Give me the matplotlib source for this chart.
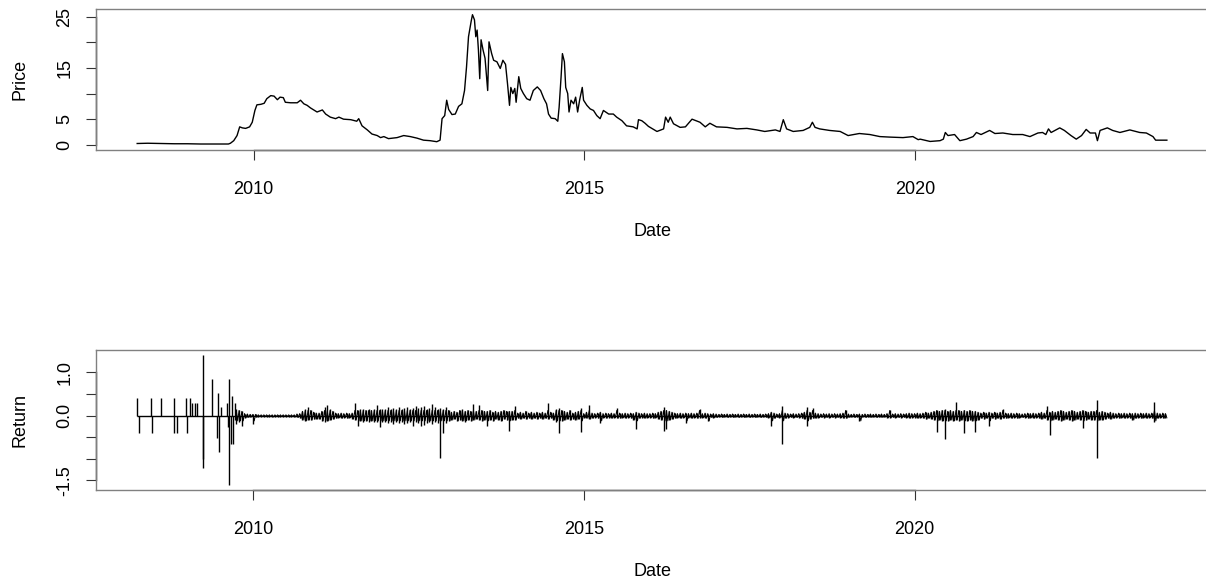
import numpy as np
import matplotlib.pyplot as plt
import matplotlib.transforms as mtransforms

plt.rcParams['font.family'] = ['Liberation Sans', 'DejaVu Sans']

# Price (decimal year, price)
price_dates = [
    2008.24, 2008.40, 2008.60, 2008.80, 2009.00, 2009.20, 2009.40, 2009.62, 2009.65, 2009.70,
    2009.75, 2009.79, 2009.83, 2009.88, 2009.94, 2009.98, 2010.02, 2010.05, 2010.11, 2010.16,
    2010.20, 2010.26, 2010.31, 2010.36, 2010.40, 2010.45, 2010.48, 2010.56, 2010.66, 2010.71,
    2010.76, 2010.81, 2010.86, 2010.91, 2010.96, 2011.04, 2011.09, 2011.16, 2011.24, 2011.29,
    2011.36, 2011.47, 2011.56, 2011.59, 2011.64, 2011.72, 2011.79, 2011.87, 2011.92, 2011.97,
    2012.04, 2012.10, 2012.17, 2012.27, 2012.37, 2012.47, 2012.57, 2012.67, 2012.77, 2012.82,
    2012.85, 2012.89, 2012.92, 2012.95, 2013.00, 2013.05, 2013.10, 2013.15, 2013.19, 2013.22,
    2013.25, 2013.29, 2013.31, 2013.34, 2013.36, 2013.38, 2013.40, 2013.42, 2013.44, 2013.47,
    2013.50, 2013.54, 2013.56, 2013.60, 2013.63, 2013.68, 2013.73, 2013.77, 2013.81, 2013.84,
    2013.87, 2013.89, 2013.92, 2013.95, 2013.97, 2014.01, 2014.04, 2014.08, 2014.13, 2014.18,
    2014.23, 2014.29, 2014.34, 2014.39, 2014.43, 2014.46, 2014.50, 2014.56, 2014.60, 2014.62,
    2014.65, 2014.67, 2014.70, 2014.72, 2014.75, 2014.77, 2014.80, 2014.84, 2014.87, 2014.90,
    2014.93, 2014.97, 2014.99, 2015.04, 2015.09, 2015.14, 2015.19, 2015.24, 2015.29, 2015.37,
    2015.44, 2015.49, 2015.57, 2015.64, 2015.74, 2015.80, 2015.82, 2015.87, 2015.92, 2015.97,
    2016.10, 2016.20, 2016.23, 2016.27, 2016.30, 2016.35, 2016.45, 2016.53, 2016.63, 2016.75,
    2016.83, 2016.90, 2017.00, 2017.16, 2017.31, 2017.46, 2017.61, 2017.73, 2017.89, 2017.96,
    2018.01, 2018.06, 2018.16, 2018.31, 2018.41, 2018.45, 2018.49, 2018.56, 2018.71, 2018.87,
    2018.99, 2019.16, 2019.32, 2019.47, 2019.62, 2019.82, 2019.97, 2020.05, 2020.08, 2020.23,
    2020.38, 2020.43, 2020.46, 2020.50, 2020.60, 2020.68, 2020.78, 2020.88, 2020.93, 2021.00,
    2021.13, 2021.21, 2021.33, 2021.48, 2021.63, 2021.74, 2021.86, 2021.93, 2021.98, 2022.02,
    2022.06, 2022.19, 2022.26, 2022.36, 2022.44, 2022.52, 2022.59, 2022.65, 2022.73, 2022.76,
    2022.80, 2022.91, 2022.99, 2023.10, 2023.25, 2023.40, 2023.50, 2023.60, 2023.64, 2023.70,
    2023.81]
price = [
    0.25, 0.30, 0.25, 0.20, 0.20, 0.15, 0.15, 0.15, 0.30, 0.80,
    1.8, 3.5, 3.3, 3.2, 3.5, 4.4, 6.7, 7.8, 7.9, 8.1,
    9.0, 9.6, 9.5, 8.8, 9.3, 9.2, 8.3, 8.2, 8.2, 8.7,
    8.0, 7.7, 7.2, 6.8, 6.4, 6.8, 6.0, 5.4, 5.1, 5.4,
    5.0, 4.9, 4.6, 5.1, 3.7, 2.9, 2.1, 1.8, 1.4, 1.6,
    1.2, 1.3, 1.4, 1.8, 1.6, 1.3, 0.9, 0.8, 0.6, 0.9,
    5.1, 5.7, 8.7, 6.9, 5.9, 6.0, 7.5, 8.0, 10.6, 15.2,
    21.1, 24.1, 25.4, 24.4, 21.1, 22.4, 18.5, 12.9, 20.5, 18.5,
    16.9, 10.6, 20.1, 17.8, 16.5, 16.2, 14.9, 16.5, 15.7, 11.9,
    7.7, 11.2, 10.0, 11.0, 8.3, 13.3, 11.0, 10.0, 9.0, 8.7,
    10.6, 11.3, 10.6, 9.0, 8.0, 6.0, 5.2, 5.1, 4.6, 7.3,
    13.3, 17.8, 16.2, 11.2, 10.0, 6.4, 8.7, 8.0, 9.3, 6.4,
    8.7, 11.2, 8.7, 7.7, 7.0, 6.7, 5.7, 5.1, 6.7, 6.0,
    6.0, 5.4, 4.7, 3.7, 3.5, 3.1, 4.9, 4.7, 4.2, 3.6,
    2.6, 3.1, 5.4, 4.4, 5.4, 4.1, 3.4, 3.5, 5.0, 4.4,
    3.5, 4.2, 3.5, 3.4, 3.1, 3.2, 2.9, 2.6, 2.9, 2.6,
    4.9, 3.1, 2.6, 2.8, 3.4, 4.4, 3.4, 3.1, 2.8, 2.6,
    1.8, 2.2, 2.0, 1.6, 1.5, 1.4, 1.6, 1.0, 1.1, 0.65,
    0.8, 1.1, 2.4, 1.8, 2.0, 0.8, 1.1, 1.6, 2.4, 2.0,
    2.8, 2.2, 2.3, 2.0, 2.0, 1.6, 2.3, 2.4, 2.0, 3.1,
    2.4, 3.3, 2.8, 1.8, 1.1, 1.8, 3.0, 2.3, 2.3, 0.8,
    2.8, 3.3, 2.8, 2.4, 2.9, 2.4, 2.3, 1.6, 0.9, 0.9,
    0.9]

# Early isolated return spikes (2008 - mid 2009): date, low, high
spike_dates = [2008.252, 2008.282, 2008.455, 2008.479, 2008.615, 2008.801, 2008.811, 2008.852,
               2008.988, 2009.008, 2009.048, 2009.083, 2009.119, 2009.154, 2009.240, 2009.249,
               2009.376, 2009.451, 2009.471, 2009.486, 2009.512, 2009.602, 2009.617, 2009.642,
               2009.663, 2009.683, 2009.693, 2009.728]
spike_lo = [0, -0.40, 0, -0.40, 0, -0.40, 0, -0.40,
            0, -0.40, 0, 0, 0, 0, -1.00, -1.22,
            0, -0.51, 0, -0.84, 0, 0, -0.26, -1.60,
            -0.66, 0, -0.66, -0.10]
spike_hi = [0.42, 0, 0.42, 0, 0.42, 0, 0.42, 0,
            0.42, 0, 0.42, 0.30, 0.30, 0.30, 1.40, 0,
            0.85, 0, 0.52, 0, 0.20, 0.30, 0, 0.85,
            0, 0.45, 0, 0.30]

# Half-monthly return range from Oct 2009 on (high / low per bin)
ret_start = 2009.75
ret_hi = [
    0.15, 0.12, 0.10, 0.05, 0.04, 0.03,
    0.03, 0.03, 0.02, 0.02, 0.02, 0.02, 0.02, 0.02, 0.02, 0.02, 0.02, 0.02, 0.02, 0.02, 0.02, 0.02, 0.04, 0.05, 0.10, 0.15, 0.20, 0.12, 0.08, 0.06,
    0.06, 0.10, 0.20, 0.25, 0.15, 0.10, 0.06, 0.05, 0.06, 0.05, 0.06, 0.05, 0.06, 0.30, 0.12, 0.15, 0.15, 0.12, 0.15, 0.12, 0.15, 0.25, 0.15, 0.15,
    0.15, 0.20, 0.15, 0.18, 0.15, 0.20, 0.15, 0.18, 0.20, 0.15, 0.18, 0.22, 0.18, 0.20, 0.22, 0.15, 0.18, 0.27, 0.20, 0.15, 0.18, 0.15, 0.20, 0.12,
    0.08, 0.10, 0.08, 0.12, 0.15, 0.10, 0.12, 0.10, 0.27, 0.10, 0.25, 0.12, 0.10, 0.10, 0.12, 0.08, 0.10, 0.08, 0.10, 0.12, 0.10, 0.10, 0.10, 0.22,
    0.06, 0.08, 0.06, 0.10, 0.06, 0.08, 0.06, 0.08, 0.06, 0.08, 0.06, 0.30, 0.08, 0.06, 0.15, 0.17, 0.12, 0.10, 0.08, 0.12, 0.06, 0.08, 0.10, 0.17,
    0.05, 0.08, 0.25, 0.06, 0.05, 0.06, 0.08, 0.05, 0.06, 0.05, 0.06, 0.05, 0.18, 0.06, 0.05, 0.06, 0.05, 0.06, 0.05, 0.08, 0.06, 0.05, 0.06, 0.05,
    0.05, 0.06, 0.05, 0.08, 0.10, 0.19, 0.12, 0.10, 0.08, 0.06, 0.05, 0.06, 0.05, 0.06, 0.05, 0.06, 0.05, 0.06, 0.15, 0.05, 0.06, 0.05, 0.04, 0.05,
    0.04, 0.03, 0.04, 0.03, 0.04, 0.03, 0.04, 0.03, 0.04, 0.03, 0.04, 0.03, 0.04, 0.03, 0.04, 0.03, 0.04, 0.03, 0.04, 0.05, 0.08, 0.06, 0.04, 0.05,
    0.22, 0.06, 0.05, 0.04, 0.05, 0.04, 0.05, 0.06, 0.08, 0.20, 0.08, 0.17, 0.06, 0.05, 0.04, 0.05, 0.04, 0.05, 0.04, 0.05, 0.04, 0.05, 0.06, 0.14,
    0.04, 0.03, 0.04, 0.03, 0.04, 0.03, 0.04, 0.03, 0.04, 0.03, 0.04, 0.03, 0.04, 0.03, 0.05, 0.12, 0.04, 0.05, 0.04, 0.05, 0.04, 0.05, 0.06, 0.05,
    0.05, 0.06, 0.05, 0.06, 0.08, 0.06, 0.08, 0.10, 0.12, 0.10, 0.12, 0.15, 0.10, 0.12, 0.10, 0.31, 0.12, 0.10, 0.12, 0.10, 0.12, 0.10, 0.10, 0.08,
    0.06, 0.08, 0.06, 0.08, 0.06, 0.08, 0.06, 0.08, 0.15, 0.06, 0.05, 0.06, 0.05, 0.06, 0.05, 0.04, 0.05, 0.06, 0.05, 0.06, 0.05, 0.06, 0.08, 0.06,
    0.22, 0.08, 0.10, 0.08, 0.10, 0.12, 0.10, 0.08, 0.10, 0.12, 0.10, 0.08, 0.10, 0.12, 0.10, 0.08, 0.10, 0.10, 0.37, 0.08, 0.10, 0.08, 0.06, 0.08,
    0.06, 0.05, 0.06, 0.05, 0.06, 0.05, 0.06, 0.05, 0.06, 0.05, 0.06, 0.05, 0.06, 0.05, 0.06, 0.31, 0.06, 0.05, 0.06, 0.05]
ret_lo = [
    -0.20, -0.15, -0.25, -0.05, -0.04, -0.03,
    -0.20, -0.03, -0.02, -0.02, -0.02, -0.02, -0.02, -0.03, -0.02, -0.02, -0.02, -0.02, -0.02, -0.02, -0.02, -0.03, -0.04, -0.06, -0.10, -0.12, -0.10, -0.10, -0.08, -0.08,
    -0.08, -0.12, -0.15, -0.12, -0.10, -0.08, -0.06, -0.05, -0.06, -0.05, -0.06, -0.05, -0.08, -0.10, -0.24, -0.12, -0.15, -0.12, -0.15, -0.12, -0.15, -0.15, -0.26, -0.15,
    -0.15, -0.18, -0.15, -0.20, -0.15, -0.18, -0.15, -0.20, -0.18, -0.15, -0.25, -0.15, -0.18, -0.25, -0.22, -0.18, -0.15, -0.20, -0.15, -0.18, -0.99, -0.40, -0.18, -0.12,
    -0.10, -0.08, -0.12, -0.10, -0.12, -0.15, -0.10, -0.12, -0.10, -0.08, -0.10, -0.12, -0.10, -0.25, -0.10, -0.12, -0.08, -0.10, -0.12, -0.08, -0.10, -0.36, -0.10, -0.10,
    -0.06, -0.08, -0.06, -0.08, -0.06, -0.08, -0.06, -0.08, -0.06, -0.08, -0.06, -0.08, -0.06, -0.10, -0.15, -0.40, -0.12, -0.10, -0.08, -0.10, -0.08, -0.10, -0.08, -0.37,
    -0.05, -0.06, -0.08, -0.06, -0.05, -0.06, -0.16, -0.05, -0.06, -0.05, -0.06, -0.05, -0.06, -0.06, -0.05, -0.06, -0.05, -0.06, -0.10, -0.31, -0.06, -0.05, -0.06, -0.05,
    -0.05, -0.06, -0.05, -0.08, -0.10, -0.35, -0.30, -0.10, -0.08, -0.06, -0.05, -0.06, -0.05, -0.18, -0.05, -0.06, -0.05, -0.06, -0.05, -0.05, -0.06, -0.12, -0.04, -0.05,
    -0.04, -0.03, -0.04, -0.03, -0.04, -0.03, -0.04, -0.03, -0.04, -0.03, -0.04, -0.03, -0.04, -0.03, -0.04, -0.03, -0.04, -0.03, -0.04, -0.05, -0.25, -0.06, -0.04, -0.05,
    -0.65, -0.06, -0.05, -0.04, -0.05, -0.04, -0.05, -0.06, -0.08, -0.25, -0.08, -0.06, -0.06, -0.05, -0.04, -0.05, -0.04, -0.05, -0.04, -0.05, -0.04, -0.05, -0.06, -0.06,
    -0.04, -0.03, -0.04, -0.03, -0.12, -0.03, -0.04, -0.03, -0.04, -0.03, -0.04, -0.03, -0.04, -0.03, -0.05, -0.05, -0.04, -0.05, -0.04, -0.05, -0.04, -0.05, -0.06, -0.05,
    -0.05, -0.06, -0.05, -0.06, -0.08, -0.06, -0.08, -0.10, -0.37, -0.10, -0.12, -0.53, -0.12, -0.10, -0.12, -0.10, -0.12, -0.10, -0.40, -0.12, -0.10, -0.12, -0.37, -0.10,
    -0.06, -0.08, -0.06, -0.25, -0.06, -0.08, -0.06, -0.08, -0.06, -0.06, -0.05, -0.06, -0.05, -0.06, -0.05, -0.04, -0.05, -0.06, -0.05, -0.06, -0.05, -0.06, -0.08, -0.06,
    -0.10, -0.44, -0.10, -0.08, -0.10, -0.12, -0.10, -0.08, -0.10, -0.12, -0.10, -0.08, -0.10, -0.28, -0.10, -0.08, -0.10, -0.10, -0.97, -0.10, -0.10, -0.08, -0.06, -0.08,
    -0.06, -0.05, -0.06, -0.05, -0.06, -0.05, -0.06, -0.10, -0.06, -0.05, -0.06, -0.05, -0.06, -0.05, -0.06, -0.14, -0.06, -0.05, -0.06, -0.05]

band_dates = ret_start + np.arange(len(ret_hi)) / 24.0
ret_dates = np.concatenate([spike_dates, band_dates])
ret_low = np.concatenate([spike_lo, ret_lo])
ret_high = np.concatenate([spike_hi, ret_hi])
# zig-zag through each bin's range so the band reads as dense daily noise;
# capped at the noise level so the big spikes stay thin vertical lines
noise_cap = 0.12
zig_x = np.ravel([band_dates, band_dates + 1 / 48.0], order='F')
zig_y = np.clip(np.ravel([ret_hi, ret_lo], order='F'), -noise_cap, noise_cap)

year_ticks = [2010, 2015, 2020]

fig = plt.figure(figsize=(12.06, 5.82), dpi=100)
# right edge of the box sits just past the image edge, as in the reference
ax1 = fig.add_axes([0.0796, 0.7423, 0.9221, 0.2414])
ax2 = fig.add_axes([0.0796, 0.1581, 0.9221, 0.2405])


def r_style(ax, yticks, ylabels, ylab):
    for s in ax.spines.values():
        s.set_color('#808080')
        s.set_linewidth(1.0)
    ax.set_xticks(year_ticks)
    ax.set_xticklabels([str(y) for y in year_ticks])
    ax.set_yticks(yticks)
    ax.set_yticklabels(ylabels, rotation=90, va='center')
    ax.tick_params(axis='both', direction='out', length=7.2, width=0.8,
                   color='#333333', labelsize=13)
    ax.tick_params(axis='x', pad=15)
    ax.tick_params(axis='y', pad=9)
    # axis lines from first to last tick, like R's axis()
    tx = mtransforms.blended_transform_factory(ax.transData, ax.transAxes)
    ax.plot([year_ticks[0], year_ticks[-1]], [0, 0], transform=tx,
            color='#333333', lw=1.0, clip_on=False)
    ty = mtransforms.blended_transform_factory(ax.transAxes, ax.transData)
    ax.plot([0, 0], [yticks[0], yticks[-1]], transform=ty,
            color='#333333', lw=1.0, clip_on=False)
    ax.set_xlabel('Date', fontsize=13, labelpad=18)
    ax.set_ylabel(ylab, fontsize=13, labelpad=20)


ax1.plot(price_dates, price, color='black', lw=1.0)
ax1.margins(x=0.04, y=0.04)
r_style(ax1, [0, 5, 10, 15, 20, 25], ['0', '5', '', '15', '', '25'], 'Price')

ax2.hlines(0, ret_dates[0], ret_dates[-1], color='black', lw=1.0)
ax2.vlines(ret_dates, ret_low, ret_high, color='black', lw=1.0)
ax2.plot(zig_x, zig_y, color='black', lw=0.7)
ax2.margins(x=0.04, y=0.04)
r_style(ax2, [-1.5, -1.0, -0.5, 0.0, 0.5, 1.0],
        ['-1.5', '', '', '0.0', '', '1.0'], 'Return')

fig.savefig('out.png', dpi=100)
